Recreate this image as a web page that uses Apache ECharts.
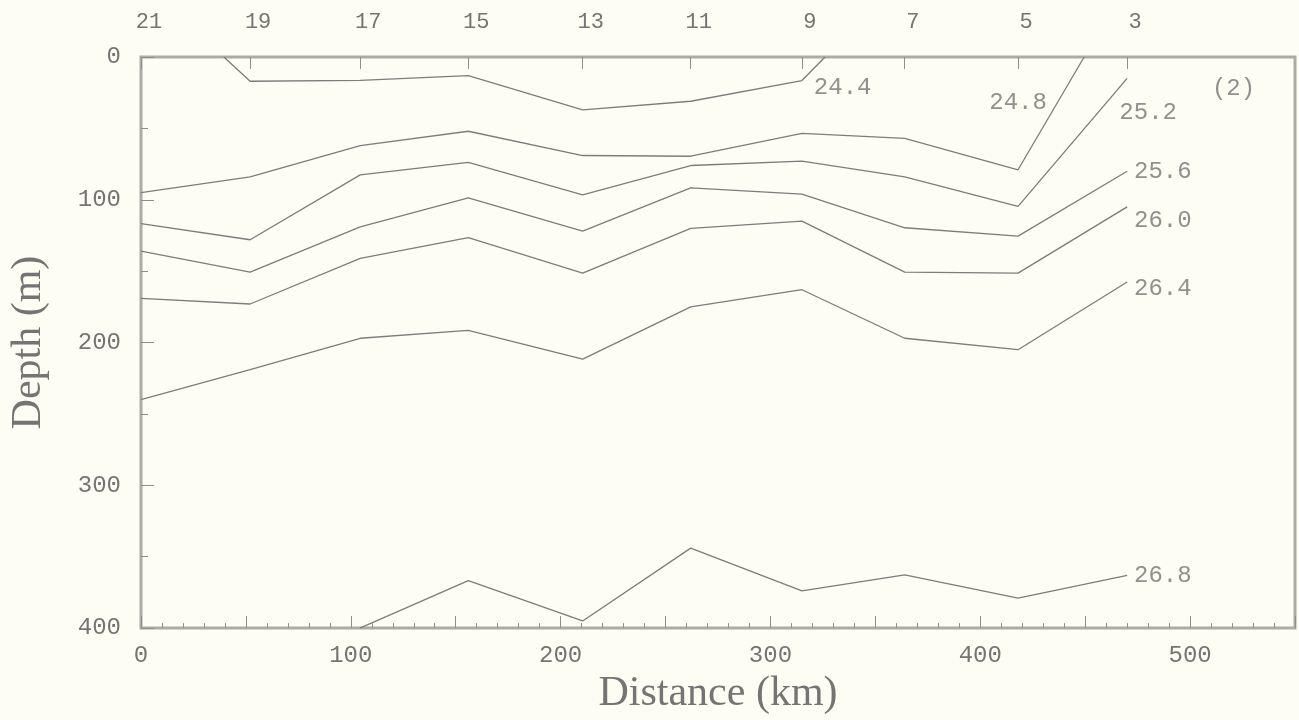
<!DOCTYPE html>
<html>
<head>
<meta charset="utf-8">
<script src="https://cdn.jsdelivr.net/npm/echarts@6/dist/echarts.min.js"></script>
<style>
html,body{margin:0;padding:0;background:#fdfdf3;}
#chart{width:1299px;height:720px;}
</style>
</head>
<body>
<div id="chart"></div>
<script>
// Station numbers along the top axis and their distances (km)
const stationNums = [21, 19, 17, 15, 13, 11, 9, 7, 5, 3];
const stationKm   = [0, 52, 104.5, 156, 210.5, 262, 315, 364, 418, 470];

// Contour lines: [distance km, depth m]
const c244 = [[39.5,0],[52,17],[104.5,16.4],[156,13],[210.5,37],[262,31],[315,16.5],[326,0]];
const c248 = [[0,95],[52,84],[104.5,62],[156,52],[210.5,69],[262,69.5],[315,53.5],[364,57],[418,79],[449.5,0]];
const c252 = [[0,116.7],[52,128],[104.5,82.6],[156,73.8],[210.5,96.5],[262,76],[315,72.9],[364,84],[418,104.6],[470,15]];
const c256 = [[0,136],[52,150.7],[104.5,119],[156,98.6],[210.5,122],[262,91.7],[315,96],[364,119.6],[418,125.5],[470,80]];
const c260 = [[0,169],[52,173],[104.5,141],[156,126.5],[210.5,151.4],[262,120],[315,115],[364,150.7],[418,151.4],[470,105]];
const c264 = [[0,240],[52,219],[104.5,197],[156,191.5],[210.5,211.6],[262,175],[315,163],[364,197],[418,205],[470,157.6]];
const c268 = [[104.3,400],[156,366.7],[210.5,395],[262,344],[315,374],[364,362.7],[418,379],[470,363]];

// Contour label texts and anchor positions [km, depth, text]
const contourLabels = [
  [334.4, 21.5, '24.4'],
  [418, 32, '24.8'],
  [480, 39, '25.2'],
  [487, 80.5, '25.6'],
  [487, 114.6, '26.0'],
  [487, 162, '26.4'],
  [487, 363, '26.8'],
  [520.7, 22, '(2)']
];

const xTicks = { min: 0, max: 550, interval: 50 };
const yTicks = { min: 0, max: 400, interval: 100 };

const lineColor = '#7c7c7c';
const textColor = '#747474';
const tickColor = '#8e8e8e';
const monoFont = 'Liberation Mono';
const serifFont = 'Liberation Serif';

const contours = [c244, c248, c252, c256, c260, c264, c268];
const lineSeries = contours.map(d => ({
  type: 'line',
  data: d,
  symbol: 'none',
  silent: true,
  lineStyle: { color: lineColor, width: 1.3 },
  xAxisIndex: 0,
  yAxisIndex: 0,
  z: 3
}));

const chart = echarts.init(document.getElementById('chart'), null, { renderer: 'canvas' });
chart.setOption({
  backgroundColor: '#fdfdf3',
  animation: false,
  grid: {
    left: 137, right: 4, top: 57, bottom: 87,
    show: true,
    borderColor: '#acaca5',
    borderWidth: 3,
    backgroundColor: 'transparent'
  },
  xAxis: [
    {
      type: 'value',
      position: 'bottom',
      min: xTicks.min, max: xTicks.max, interval: xTicks.interval,
      name: 'Distance (km)',
      nameLocation: 'middle',
      nameGap: 36,
      nameTextStyle: { fontFamily: serifFont, fontSize: 42, color: textColor, verticalAlign: 'top' },
      axisLine: { show: false, onZero: false },
      axisTick: { show: true, inside: true, length: 12, lineStyle: { color: tickColor, width: 1 } },
      minorTick: { show: true, splitNumber: 5, length: 5, lineStyle: { color: tickColor, width: 1 } },
      splitLine: { show: false },
      axisLabel: {
        margin: 16,
        fontFamily: monoFont, fontSize: 24, color: textColor,
        formatter: v => (v % 100 === 0 && v <= 500) ? String(v) : ''
      }
    },
    {
      type: 'value',
      position: 'top',
      min: xTicks.min, max: xTicks.max,
      axisLine: { show: false, onZero: false },
      axisTick: { show: true, inside: true, length: 12, customValues: stationKm, lineStyle: { color: tickColor, width: 1 } },
      splitLine: { show: false },
      axisLabel: {
        margin: 24,
        showMinLabel: true,
        customValues: stationKm,
        padding: [0, 0, 0, 16],
        fontFamily: monoFont, fontSize: 22, color: textColor,
        formatter: v => {
          const i = stationKm.indexOf(v);
          return i >= 0 ? String(stationNums[i]) : '';
        }
      }
    }
  ],
  yAxis: [
    {
      type: 'value',
      inverse: true,
      min: yTicks.min, max: yTicks.max, interval: yTicks.interval,
      name: 'Depth (m)',
      nameLocation: 'middle',
      nameGap: 91,
      nameTextStyle: { fontFamily: serifFont, fontSize: 42, color: textColor },
      axisLine: { show: false, onZero: false },
      axisTick: { show: true, inside: true, length: 13, lineStyle: { color: tickColor, width: 1 } },
      minorTick: { show: true, splitNumber: 2, length: 7, lineStyle: { color: tickColor, width: 1 } },
      splitLine: { show: false },
      axisLabel: {
        margin: 20,
        fontFamily: monoFont, fontSize: 24, color: textColor
      }
    }
  ],
  series: lineSeries.concat([
    {
      type: 'scatter',
      data: contourLabels,
      symbolSize: 0,
      silent: true,
      xAxisIndex: 0,
      yAxisIndex: 0,
      z: 5,
      label: {
        show: true,
        position: 'inside',
        formatter: p => p.value[2],
        fontFamily: monoFont,
        fontSize: 24,
        color: textColor
      }
    }
  ])
});
</script>
</body>
</html>
